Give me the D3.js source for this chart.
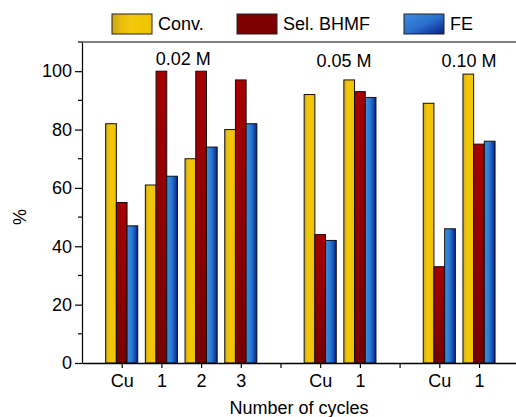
<!DOCTYPE html>
<html>
<head>
<meta charset="utf-8">
<script src="https://cdn.jsdelivr.net/npm/d3@7"></script>
<style>
  body { margin: 0; background: #fff; }
  svg { display: block; font-family: "Liberation Sans", Arial, sans-serif; }
</style>
</head>
<body>
<div class="container"></div>
<script>
const width = 516;
const height = 417;
const margin = { top: 42, bottom: 54, left: 82, right: 0 }
const fontSize = "18px";

// data
const categories = ["Cu", "1", "2", "3", "", "Cu", "1", "", "Cu", "1"];
const conv = [82, 61, 70, 80, null, 92, 97, null, 89, 99];
const selBHMF = [55, 100, 100, 97, null, 44, 93, null, 33, 75];
const fe = [47, 64, 74, 82, null, 42, 91, null, 46, 76];
const seriesNames = ["Conv.", "Sel. BHMF", "FE"];
const concLabels = ["0.02 M", "0.05 M", "0.10 M"];
const concAt = [1.55, 5.6, 8.75];
const yTicks = [0, 20, 40, 60, 80, 100];

const series = [conv, selBHMF, fe];
const fills = ["url(#gYellow)", "url(#gRed)", "url(#gBlue)"];

const svg = d3.select(".container")
    .append("svg")
    .attr("width", width)
    .attr("height", height);

// gradients
const defs = svg.append("defs");
function grad(id, x2, y2, stops) {
    const g = defs.append("linearGradient").attr("id", id)
        .attr("x1", 0).attr("y1", 0).attr("x2", x2).attr("y2", y2);
    stops.forEach(s => g.append("stop").attr("offset", s[0]).attr("stop-color", s[1]));
}
grad("gYellow", 1, 0, [[0, "#c9a614"], [0.25, "#eabf0e"], [0.5, "#f4c80a"], [1, "#efc200"]]);
grad("gRed", 0, 1, [[0, "#a60000"], [0.5, "#900000"], [1, "#760000"]]);
grad("gBlue", 1, 0, [[0, "#3d8ee0"], [0.45, "#2a78d2"], [0.8, "#1446a8"], [1, "#071c86"]]);
grad("gRedLeg", 0, 1, [[0, "#800000"], [1, "#7c0000"]]);
grad("gBlueLeg", 1, 1, [[0, "#3d8ee0"], [0.5, "#2a70cc"], [1, "#0a1f8a"]]);

const xScale = d3.scaleLinear()
    .domain([-1, 11])
    .range([margin.left, margin.left + 12 * 39.7]);

const yScale = d3.scaleLinear()
    .domain([0, 110])
    .range([height - margin.bottom, margin.top]);

const barW = 10.7;

// bars
series.forEach((vals, s) => {
    svg.append("g")
        .selectAll("rect")
        .data(vals.map((v, i) => ({ v, i })).filter(d => d.v != null))
        .join("rect")
        .attr("x", d => xScale(d.i) - 1.5 * barW + s * barW)
        .attr("y", d => yScale(d.v))
        .attr("width", barW)
        .attr("height", d => yScale(0) - yScale(d.v))
        .attr("fill", fills[s])
        .attr("stroke", "#111")
        .attr("stroke-width", 1);
});

// frame: top line
svg.append("line")
    .attr("x1", margin.left).attr("x2", width)
    .attr("y1", margin.top).attr("y2", margin.top)
    .attr("stroke", "#000").attr("stroke-width", 1.2);

// y axis
const yAxis = svg.append("g")
    .attr("transform", `translate(${margin.left},0)`)
    .call(d3.axisLeft(yScale).tickValues(yTicks).tickSize(7).tickSizeOuter(0).tickPadding(3));
yAxis.select(".domain").attr("stroke-width", 1.2);
yAxis.selectAll(".tick line").attr("stroke-width", 1.2);
yAxis.selectAll("text").attr("font-size", fontSize).attr("fill", "#000")
    .attr("font-family", "Liberation Sans, Arial, sans-serif");

// minor y ticks
svg.append("g")
    .selectAll("line")
    .data([10, 30, 50, 70, 90, 110])
    .join("line")
    .attr("x1", margin.left - 4).attr("x2", margin.left)
    .attr("y1", d => yScale(d)).attr("y2", d => yScale(d))
    .attr("stroke", "#000").attr("stroke-width", 1.2);

// x axis
const xAxis = svg.append("g")
    .attr("transform", `translate(0,${height - margin.bottom})`)
    .call(d3.axisBottom(xScale)
        .tickValues(d3.range(categories.length))
        .tickFormat(i => categories[i])
        .tickSize(5).tickSizeOuter(0).tickPadding(6));
xAxis.select(".domain").attr("stroke-width", 1.4);
xAxis.selectAll(".tick line").attr("stroke-width", 1.2);
xAxis.selectAll("text").attr("font-size", fontSize).attr("fill", "#000")
    .attr("font-family", "Liberation Sans, Arial, sans-serif");

// concentration labels
svg.append("g")
    .selectAll("text")
    .data(concLabels)
    .join("text")
    .attr("x", (d, i) => xScale(concAt[i]))
    .attr("y", (d, i) => i === 0 ? 65 : 67)
    .attr("text-anchor", "middle")
    .attr("font-size", fontSize)
    .text(d => d);

// axis titles
svg.append("text")
    .attr("x", 299).attr("y", 414)
    .attr("text-anchor", "middle")
    .attr("font-size", fontSize)
    .text("Number of cycles");

svg.append("text")
    .attr("transform", "translate(26,217) rotate(-90)")
    .attr("text-anchor", "middle")
    .attr("font-size", fontSize)
    .text("%");

// legend
const legX = [112, 237, 404];
const legFill = ["url(#gYellow)", "url(#gRedLeg)", "url(#gBlueLeg)"];
const legend = svg.append("g")
    .selectAll("g")
    .data(seriesNames)
    .join("g")
    .attr("transform", (d, i) => `translate(${legX[i]},14)`);
legend.append("rect")
    .attr("width", 40).attr("height", 20)
    .attr("fill", (d, i) => legFill[i])
    .attr("stroke", "#222").attr("stroke-width", 1);
legend.append("text")
    .attr("x", 46).attr("y", 16)
    .attr("font-size", fontSize)
    .text(d => d);
</script>
</body>
</html>
